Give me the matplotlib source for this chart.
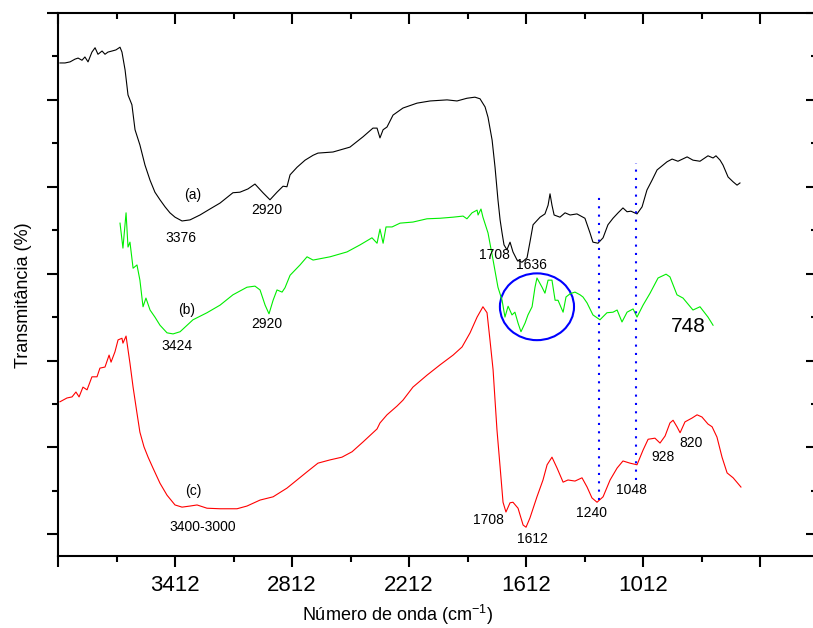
import numpy as np
import matplotlib
matplotlib.use('Agg')
import matplotlib.pyplot as plt
from matplotlib.patches import Ellipse
from matplotlib.ticker import FixedLocator

plt.rcParams['font.family'] = 'Liberation Sans'
plt.rcParams['mathtext.default'] = 'regular'

# espectro (a) - preto
wa = [4002, 3976, 3950, 3925, 3909, 3889, 3874, 3858, 3838, 3822, 3807, 3786, 3771, 3756, 3735, 3715, 3694,
      3684, 3668, 3653, 3633, 3617, 3592, 3566, 3540, 3515, 3489, 3463, 3438, 3412, 3376, 3335, 3284, 3233,
      3181, 3115, 3079, 3038, 3002, 2961, 2925, 2889, 2858, 2838, 2822, 2786, 2745, 2704, 2679, 2602, 2515,
      2448, 2397, 2376, 2361, 2345, 2325, 2294, 2243, 2171, 2104, 2017, 1966, 1915, 1874, 1848, 1822, 1807,
      1786, 1771, 1756, 1745, 1735, 1725, 1710, 1694, 1679, 1658, 1633, 1607, 1592, 1576, 1540, 1515, 1499,
      1489, 1479, 1468, 1438, 1412, 1386, 1351, 1310, 1284, 1269, 1243, 1217, 1192, 1166, 1140, 1115, 1094,
      1074, 1043, 1017, 992, 966, 940, 889, 863, 833, 786, 756, 720, 679, 653, 638, 617, 602, 576, 550, 530, 515]
ta = [90.8, 90.8, 91.0, 91.5, 91.7, 91.3, 91.9, 91.0, 92.8, 93.6, 92.4, 93.0, 92.4, 92.8, 93.0, 93.2, 93.7,
      92.8, 89.5, 84.9, 83.1, 78.5, 75.7, 72.0, 69.2, 67.0, 65.6, 64.3, 63.2, 62.4, 61.7, 61.9, 62.8, 63.9,
      65.0, 66.9, 67.0, 67.6, 68.5, 66.9, 65.6, 67.0, 68.1, 68.0, 70.2, 71.6, 72.9, 73.8, 74.2, 74.4, 75.3,
      77.2, 78.8, 78.8, 77.0, 78.5, 79.0, 81.2, 82.5, 83.4, 83.8, 84.0, 83.8, 84.3, 84.5, 84.2, 82.7, 80.8,
      76.6, 71.6, 65.6, 61.9, 59.5, 57.3, 56.4, 57.8, 56.0, 54.5, 54.1, 54.9, 57.8, 61.0, 62.4, 63.0, 64.6,
      66.7, 64.6, 62.8, 62.4, 63.2, 62.8, 63.0, 62.2, 59.5, 57.8, 57.6, 58.6, 61.0, 62.2, 63.2, 64.1, 63.4,
      63.5, 63.0, 64.3, 67.4, 69.2, 71.1, 72.6, 73.1, 72.7, 73.5, 72.9, 72.7, 73.7, 73.3, 73.7, 72.9, 72.0,
      69.8, 68.9, 68.3, 68.7]

# espectro (b) - verde
wb = [3694, 3679, 3663, 3653, 3643, 3627, 3607, 3592, 3576, 3561, 3540, 3515, 3489, 3453, 3422, 3386, 3320,
      3248, 3181, 3115, 3043, 3002, 2976, 2950, 2930, 2909, 2889, 2863, 2848, 2822, 2771, 2735, 2704, 2617,
      2530, 2463, 2402, 2376, 2361, 2345, 2330, 2299, 2258, 2192, 2120, 2053, 1986, 1935, 1915, 1889, 1863,
      1858, 1843, 1833, 1807, 1781, 1756, 1735, 1720, 1704, 1684, 1669, 1653, 1638, 1617, 1602, 1581, 1566,
      1556, 1530, 1515, 1499, 1479, 1463, 1448, 1422, 1407, 1386, 1361, 1335, 1320, 1299, 1269, 1233, 1197,
      1166, 1145, 1120, 1094, 1063, 1043, 1012, 976, 935, 894, 874, 838, 807, 756, 720, 679, 653]
tb = [61.3, 56.7, 63.2, 56.9, 57.8, 53.0, 53.6, 50.8, 45.9, 47.5, 45.3, 44.0, 42.5, 41.1, 40.9, 41.3, 43.5,
      44.8, 46.2, 48.1, 49.5, 49.7, 49.0, 46.2, 44.6, 47.1, 49.0, 48.6, 49.4, 51.7, 53.6, 55.1, 54.5, 55.1,
      56.0, 57.3, 58.6, 57.6, 60.2, 57.6, 60.6, 60.6, 61.3, 61.5, 62.1, 62.2, 62.4, 62.6, 62.1, 63.2, 63.7,
      62.8, 63.9, 62.4, 59.5, 54.5, 49.5, 47.1, 44.0, 46.0, 44.4, 44.9, 42.9, 41.3, 42.9, 44.4, 45.9, 49.5,
      51.2, 49.5, 48.4, 50.8, 50.8, 47.1, 47.1, 44.9, 47.7, 48.3, 48.6, 48.1, 47.7, 46.6, 44.4, 43.5, 44.8,
      44.9, 45.3, 43.1, 44.9, 45.5, 44.0, 46.2, 48.4, 51.2, 51.9, 51.4, 48.1, 47.5, 45.3, 45.9, 44.0, 42.5]

# espectro (c) - vermelho
wc = [4002, 3966, 3940, 3920, 3904, 3884, 3863, 3838, 3812, 3797, 3771, 3750, 3740, 3720, 3704, 3684, 3679,
      3663, 3643, 3627, 3617, 3607, 3592, 3571, 3550, 3525, 3489, 3453, 3412, 3376, 3335, 3299, 3248, 3181,
      3094, 3043, 2976, 2909, 2838, 2807, 2735, 2679, 2617, 2556, 2504, 2448, 2376, 2361, 2325, 2274, 2243,
      2192, 2120, 2053, 1986, 1940, 1899, 1863, 1833, 1812, 1797, 1781, 1771, 1761, 1745, 1730, 1715, 1694,
      1679, 1653, 1627, 1612, 1592, 1556, 1525, 1504, 1479, 1453, 1422, 1397, 1361, 1325, 1299, 1274, 1248,
      1217, 1181, 1145, 1115, 1079, 1043, 1012, 986, 951, 925, 899, 874, 858, 838, 822, 797, 761, 735, 710,
      679, 658, 633, 607, 581, 550, 510]
tc = [28.4, 29.1, 29.3, 30.2, 29.3, 31.1, 30.6, 33.0, 33.0, 34.6, 34.8, 37.0, 35.7, 37.6, 39.8, 40.1, 39.2,
      40.5, 35.5, 31.1, 28.7, 26.3, 22.8, 20.1, 18.2, 16.2, 13.4, 11.2, 9.4, 9.0, 9.2, 9.4, 8.8, 8.7,
      8.7, 9.2, 10.3, 10.9, 12.5, 13.4, 15.5, 17.1, 17.7, 18.2, 19.2, 21.0, 23.4, 24.5, 26.0, 27.6, 28.7,
      31.1, 33.3, 35.2, 37.0, 38.5, 41.1, 44.0, 45.9, 44.8, 39.8, 34.3, 28.7, 23.2, 16.4, 9.9, 8.1, 9.8,
      9.9, 8.8, 5.7, 5.3, 7.0, 10.9, 14.0, 16.8, 18.2, 16.2, 13.6, 14.0, 13.8, 14.4, 12.7, 10.7, 9.9,
      10.9, 14.0, 16.2, 17.5, 17.1, 16.8, 19.5, 21.5, 21.7, 20.8, 22.1, 24.5, 25.0, 23.8, 22.7, 24.7, 25.4,
      26.0, 25.6, 24.3, 23.8, 21.9, 18.2, 15.3, 14.4, 12.7]

# linhas pontilhadas (posição, início, fim)
linhas_w = [1240, 1048]
linhas_y0 = [10.3, 14.0]
linhas_y1 = [67.0, 72.4]

# rótulos dos picos
rot_txt = ['(a)', '2920', '3376', '(b)', '3424', '2920', '1708', '1636',
           '(c)', '3400-3000', '1708', '1612', '1240', '1048', '928', '820']
rot_w = [3320, 2940, 3381, 3350, 3402, 2940, 1776, 1586,
         3320, 3268, 1807, 1581, 1274, 1069, 910, 766]
rot_t = [66.5, 63.7, 58.6, 45.3, 38.7, 42.7, 55.4, 53.6,
         12.0, 5.3, 6.6, 3.1, 7.9, 12.2, 18.2, 20.8]

xticks_maj = [4012, 3412, 2812, 2212, 1612, 1012, 412]
xticks_lab = ['', '3412', '2812', '2212', '1612', '1012', '']
xticks_min = [3712, 3112, 2512, 1912, 1312, 712]
yticks_maj = [100, 84, 68, 52, 36, 20, 4]
yticks_min = [92, 76, 60, 44, 28, 12]

fig = plt.figure(figsize=(8.13, 6.28), dpi=100)
rect = [58 / 813, 72 / 628, 759 / 813, 543 / 628]
ax = fig.add_axes(rect)
# segundo eixo por cima, só para os ticks de cima e da direita (para dentro)
ax2 = fig.add_axes(rect, frameon=False, sharex=ax, sharey=ax)

ax.plot(wa, ta, color='black', lw=0.8)
ax.plot(wb, tb, color='#00ee00', lw=0.8)
ax.plot(wc, tc, color='#ff0000', lw=0.8)

for w, y0, y1 in zip(linhas_w, linhas_y0, linhas_y1):
    ax.plot([w, w], [y0, y1], color='#0000ff', lw=1.5, linestyle=(0, (1, 3)))

ax.add_patch(Ellipse((1556, 45.9), 380, 12.3, fill=False, edgecolor='#0000ff', lw=1.5))

for txt, w, t in zip(rot_txt, rot_w, rot_t):
    ax.text(w, t, txt, fontsize=10, ha='center', va='center')
ax.text(781, 42.2, '748', fontsize=15, ha='center', va='center')

ax.set_xlim(4012, 120)
ax.set_ylim(0, 100)

ax.xaxis.set_major_locator(FixedLocator(xticks_maj))
ax.xaxis.set_minor_locator(FixedLocator(xticks_min))
ax.set_xticklabels(xticks_lab)
ax.yaxis.set_major_locator(FixedLocator(yticks_maj))
ax.yaxis.set_minor_locator(FixedLocator(yticks_min))
ax.set_yticklabels([])

ax.tick_params(axis='x', which='major', direction='out', length=8, width=1.5, labelsize=16, pad=6)
ax.tick_params(axis='x', which='minor', direction='out', length=4, width=1.5)
ax.tick_params(axis='y', which='major', direction='out', length=8, width=1.5)
ax.tick_params(axis='y', which='minor', direction='out', length=4, width=1.5)

ax2.tick_params(which='both', bottom=False, left=False, top=True, right=True,
                labelbottom=False, labelleft=False, direction='in', width=1.5)
ax2.tick_params(which='major', length=8)
ax2.tick_params(which='minor', length=4)

for s in ax.spines.values():
    s.set_linewidth(1.5)
ax.spines['right'].set_visible(False)

ax.set_xlabel('Número de onda (cm$^{-1}$)', fontsize=13)
ax.xaxis.set_label_coords(0.447, -0.086)
ax.set_ylabel('Transmitância (%)', fontsize=13)
ax.yaxis.set_label_coords(-0.034, 0.48)

fig.savefig('out.png', dpi=100)
